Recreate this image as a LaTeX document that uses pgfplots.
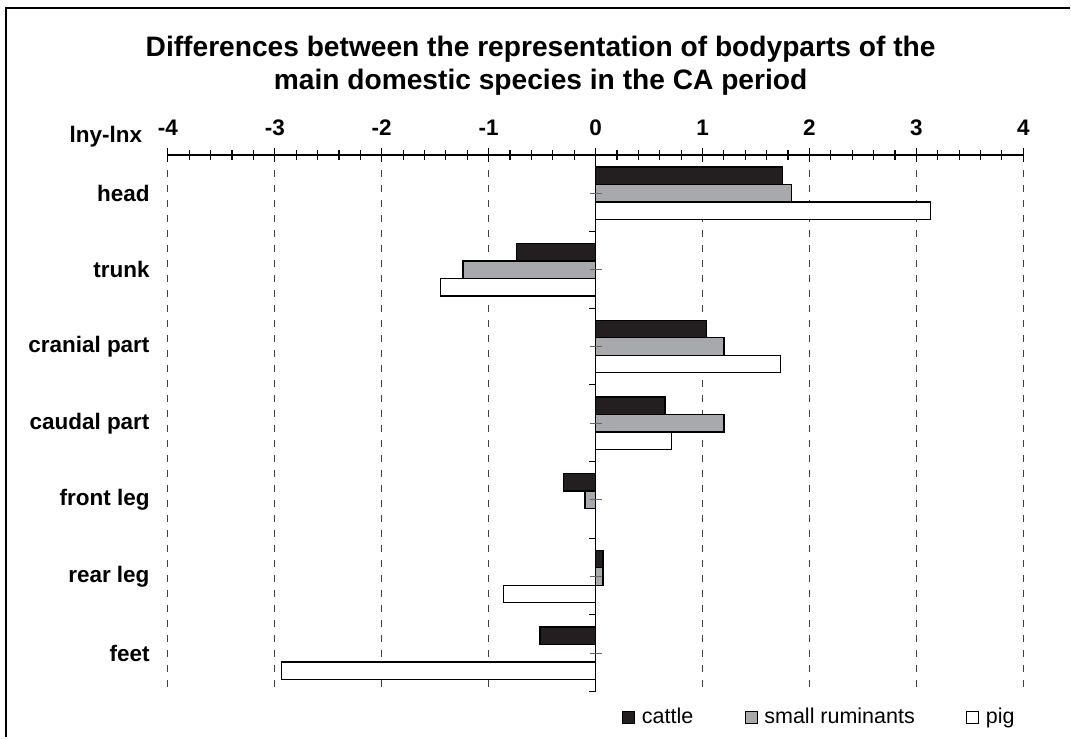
\documentclass[border=0pt]{standalone}
\usepackage{fontspec}
\setmainfont{Liberation Sans}
\usepackage{pgfplots}
\pgfplotsset{compat=1.18}
\usetikzlibrary{calc}
\definecolor{cattle}{HTML}{231F20}
\definecolor{smallrum}{HTML}{A7A9AC}

\begin{document}
\begin{tikzpicture}
\begin{axis}[
    name=ax,
    scale only axis,
    width=513.6pt, height=322.2pt,
    xmin=-4, xmax=4,
    ymin=0.5, ymax=7.5,
    y dir=reverse,
    axis x line*=top,
    axis y line*=left,
    y axis line style={draw=none},
    x axis line style={black, line width=0.9pt, -},
    xtick={-4,...,4},
    minor x tick num=4,
    xtick align=center,
    major tick length=8.4pt,
    minor tick length=6pt,
    xtick style={black, line width=0.7pt},
    xmajorgrids,
    major grid style={black!75, dash pattern=on 4.5pt off 4.5pt, line width=0.5pt},
    ytick={1,...,7},
    yticklabels={head,trunk,cranial part,caudal part,front leg,rear leg,feet},
    ytick style={draw=none},
    /pgf/number format/assume math mode=true,
    ticklabel style={font=\bfseries\fontsize{13.5}{14}\selectfont},
    xticklabel style={anchor=base, yshift=7.5pt},
    yticklabel style={anchor=east, xshift=-7.5pt},
    legend image code/.code={\draw[#1, line width=0.5pt] (0pt,-3.6pt) rectangle (7.2pt,3.6pt);},
    legend columns=3,
    legend style={draw=none, fill=none, at={(1,-0.018)}, anchor=north east,
        font=\fontsize{12.9}{14}\selectfont,
        /tikz/every odd column/.append style={column sep=2pt},
        /tikz/every even column/.append style={column sep=29pt}},
]
\addplot[xbar, bar width=10.5pt, bar shift=10.5pt, fill=cattle, draw=black, line width=0.8pt]
    coordinates {(1.75,1) (-0.74,2) (1.04,3) (0.65,4) (-0.30,5) (0.07,6) (-0.52,7)};
\addplot[xbar, bar width=10.5pt, bar shift=0pt, fill=smallrum, draw=black, line width=0.8pt]
    coordinates {(1.83,1) (-1.24,2) (1.20,3) (1.20,4) (-0.10,5) (0.07,6) (0,7)};
\addplot[xbar, bar width=10.5pt, bar shift=-10.5pt, fill=white, draw=black, line width=0.8pt]
    coordinates {(3.13,1) (-1.45,2) (1.73,3) (0.71,4) (0,5) (-0.86,6) (-2.94,7)};
\legend{cattle, small ruminants, pig}
% vertical zero line with its ticks
\draw[black, line width=0.9pt] (axis cs:0,0.5) -- (axis cs:0,7.5);
\pgfplotsinvokeforeach{1.5,2.5,3.5,4.5,5.5,6.5,7.5}{
    \draw[black, line width=0.7pt] (axis cs:0,#1) -- ++(-4.2pt,0pt);
}
\pgfplotsinvokeforeach{1,...,7}{
    \draw[black!60, line width=0.7pt] ([xshift=-3.6pt]axis cs:0,#1) -- ++(7.2pt,0pt);
}
\end{axis}
\node[anchor=base east, font=\bfseries\fontsize{13.5}{14}\selectfont]
    at ($(ax.north west)+(-12pt,7.5pt)$) {lny-lnx};
\node[align=center, font=\bfseries\fontsize{16.9}{19.5}\selectfont]
    at ($(ax.north west)+(223.8pt,53.5pt)$)
    {Differences between the representation of bodyparts of the\\ main domestic species in the CA period};
\pgfresetboundingbox
\path ($(ax.north west)+(-100.8pt,93pt)$) rectangle ($(ax.south east)+(28.2pt,-27.6pt)$);
\draw[line width=0.9pt] ($(ax.south west)+(-97.2pt,-27.6pt)$) |- ($(ax.north east)+(28.2pt,88.2pt)$);
\end{tikzpicture}
\end{document}
